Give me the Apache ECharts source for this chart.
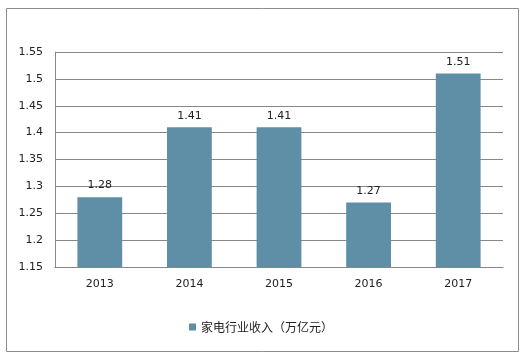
<!DOCTYPE html>
<html>
<head>
<meta charset="utf-8">
<script src="https://cdn.jsdelivr.net/npm/echarts@6/dist/echarts.min.js"></script>
<style>
html,body{margin:0;padding:0;background:#fff;}
#c{width:522px;height:355px;}
</style>
</head>
<body>
<div id="c"></div>
<script>
var categories = ['2013', '2014', '2015', '2016', '2017'];
var seriesName = '家电行业收入（万亿元）';
var values = [1.28, 1.41, 1.41, 1.27, 1.51];
var yTicks = [1.15, 1.2, 1.25, 1.3, 1.35, 1.4, 1.45, 1.5, 1.55];

var chart = echarts.init(document.getElementById('c'));
chart.setOption({
  animation: false,
  backgroundColor: '#fff',
  graphic: [{
    type: 'rect',
    shape: {x: 6.5, y: 8.5, width: 512, height: 343},
    style: {fill: 'none', stroke: '#8c8c8c', lineWidth: 1}
  }],
  grid: {left: 55, right: 19, top: 52, bottom: 88},
  legend: {
    data: [seriesName],
    bottom: 17,
    left: 'center',
    icon: 'rect',
    itemWidth: 7,
    itemHeight: 7,
    itemGap: 4,
    textStyle: {fontSize: 12, color: '#222', fontFamily: 'Noto Sans CJK SC'}
  },
  xAxis: {
    type: 'category',
    data: categories,
    axisLine: {lineStyle: {color: '#888'}},
    axisTick: {show: false},
    axisLabel: {color: '#222', fontSize: 11, margin: 12, fontFamily: 'DejaVu Sans'}
  },
  yAxis: {
    type: 'value',
    min: yTicks[0],
    max: yTicks[yTicks.length - 1],
    interval: 0.05,
    axisLine: {show: true, lineStyle: {color: '#888'}},
    axisTick: {show: false},
    splitLine: {lineStyle: {color: '#888'}},
    axisLabel: {color: '#222', fontSize: 11, margin: 12, fontFamily: 'DejaVu Sans',
      formatter: function (v) { return String(parseFloat(v.toFixed(2))); }}
  },
  series: [{
    name: seriesName,
    type: 'bar',
    data: values,
    barWidth: '50%',
    itemStyle: {color: '#5e8fa6'},
    label: {show: true, position: 'top', color: '#222', fontSize: 11, distance: 6, fontFamily: 'DejaVu Sans'}
  }]
});
</script>
</body>
</html>
